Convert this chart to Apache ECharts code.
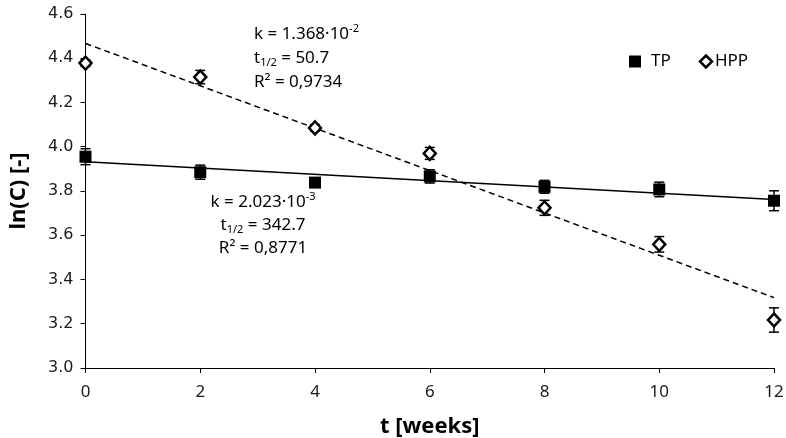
<!DOCTYPE html>
<html><head><meta charset="utf-8">
<script src="https://cdn.jsdelivr.net/npm/echarts@6/dist/echarts.min.js"></script>
<style>html,body{margin:0;padding:0;background:#fff}#c{width:786px;height:438px}</style>
</head><body><div id="c"></div>
<script>
const weeks = [0, 2, 4, 6, 8, 10, 12];
const tpValues = [3.955, 3.885, 3.838, 3.866, 3.819, 3.807, 3.756];
const tpErr = [0.036, 0.032, 0.01, 0.03, 0.029, 0.033, 0.045];
const hppValues = [4.378, 4.315, 4.085, 3.970, 3.724, 3.559, 3.217];
const hppErr = [0.015, 0.03, 0.015, 0.027, 0.034, 0.035, 0.055];
const tpFit = [[0, 3.932], [12, 3.762]];
const hppFit = [[0, 4.467], [12, 3.318]];
const xTicks = [0, 2, 4, 6, 8, 10, 12];
const yTicks = [3.0, 3.2, 3.4, 3.6, 3.8, 4.0, 4.2, 4.4, 4.6];
const hppNote = ['{n|k = 1.368·10}{sup|-2}', '{n|t}{sub|1/2}{n| = 50.7}', '{n|R² = 0,9734}'];
const tpNote = ['{n|k = 2.023·10}{sup|-3}', '{n|t}{sub|1/2}{n| = 342.7}', '{n|R² = 0,8771}'];

const FONT = 'Noto Sans';
const pts = (vals) => weeks.map((w, i) => [w, vals[i]]);
const errData = (vals, errs) => weeks.map((w, i) => [w, vals[i] - errs[i], vals[i] + errs[i]]);

function errRender(params, api) {
  const x = api.value(0);
  const lo = api.coord([x, api.value(1)]);
  const hi = api.coord([x, api.value(2)]);
  const hw = 5;
  const st = {stroke: '#000', lineWidth: 1.5};
  return {type: 'group', children: [
    {type: 'line', shape: {x1: lo[0], y1: lo[1], x2: hi[0], y2: hi[1]}, style: st},
    {type: 'line', shape: {x1: lo[0]-hw, y1: lo[1], x2: lo[0]+hw, y2: lo[1]}, style: st},
    {type: 'line', shape: {x1: hi[0]-hw, y1: hi[1], x2: hi[0]+hw, y2: hi[1]}, style: st}
  ]};
}

const rich = {
  n: {fontFamily: FONT, fontSize: 17, color: '#1a1a1a', lineHeight: 24},
  sup: {fontFamily: FONT, fontSize: 11, color: '#1a1a1a', lineHeight: 24, padding: [0, 0, 10, 0]},
  sub: {fontFamily: FONT, fontSize: 11, color: '#1a1a1a', lineHeight: 24, padding: [9, 0, 0, 0]}
};
const noteEls = [];
const hppY = [34, 58, 82];
hppNote.forEach((t, i) => noteEls.push({type: 'text', x: 254, y: hppY[i], z: 10,
  style: {text: t, rich: rich, align: 'left', verticalAlign: 'middle'}}));
const tpY = [202, 225, 248];
tpNote.forEach((t, i) => noteEls.push({type: 'text', x: 263, y: tpY[i], z: 10,
  style: {text: t, rich: rich, align: 'center', verticalAlign: 'middle'}}));

const chart = echarts.init(document.getElementById('c'), null, {renderer: 'canvas'});
chart.setOption({
  animation: false,
  grid: {left: 85.5, right: 12, top: 14, bottom: 70, containLabel: false, outerBoundsMode: 'none'},
  legend: {
    left: 624, top: 48, itemGap: 28, itemWidth: 12, itemHeight: 12,
    textStyle: {fontFamily: FONT, fontSize: 17, color: '#000'},
    data: [
      {name: 'TP', icon: 'rect', itemStyle: {color: '#000', opacity: 1},
        textStyle: {padding: [0, 0, 0, 5]}},
      {name: 'HPP', icon: 'diamond', itemStyle: {color: '#fff', borderColor: '#000', borderWidth: 2.5, opacity: 1},
        textStyle: {padding: [0, 0, 0, -2]}}
    ]
  },
  xAxis: {
    type: 'value', min: 0, max: 12, interval: 2,
    name: 't [weeks]', nameLocation: 'middle', nameGap: 48,
    nameTextStyle: {fontFamily: FONT, fontSize: 22, fontWeight: 'bold', color: '#000'},
    axisLine: {lineStyle: {color: '#000', width: 1}},
    axisTick: {show: true, length: 5, lineStyle: {color: '#000'}},
    axisLabel: {fontFamily: FONT, fontSize: 17, color: '#1a1a1a', margin: 16,
      formatter: v => xTicks.includes(v) ? String(v) : ''},
    splitLine: {show: false}
  },
  yAxis: {
    type: 'value', min: 3.0, max: 4.6, interval: 0.2,
    name: 'ln(C) [-]', nameLocation: 'middle', nameGap: 56,
    nameTextStyle: {fontFamily: FONT, fontSize: 22, fontWeight: 'bold', color: '#000'},
    axisLine: {show: true, lineStyle: {color: '#000', width: 1}},
    axisTick: {show: true, length: 5, lineStyle: {color: '#000'}},
    axisLabel: {fontFamily: 'DejaVu Sans', fontSize: 16, color: '#1a1a1a', margin: 12,
      formatter: v => { const t = yTicks.find(y => Math.abs(y - v) < 1e-6); return t !== undefined ? t.toFixed(1) : ''; }},
    splitLine: {show: false}
  },
  series: [
    {name: 'TP fit', type: 'line', data: tpFit, symbol: 'none', silent: true,
      lineStyle: {color: '#000', width: 1.5}, z: 1},
    {name: 'HPP fit', type: 'line', data: hppFit, symbol: 'none', silent: true,
      lineStyle: {color: '#000', width: 1.5, type: [6, 4]}, z: 1},
    {name: 'TP err', type: 'custom', renderItem: errRender, data: errData(tpValues, tpErr), z: 2},
    {name: 'HPP err', type: 'custom', renderItem: errRender, data: errData(hppValues, hppErr), z: 2},
    {name: 'TP', type: 'scatter', data: pts(tpValues), symbol: 'rect', symbolSize: 12,
      itemStyle: {color: '#000', opacity: 1}, z: 3},
    {name: 'HPP', type: 'scatter', data: pts(hppValues), symbol: 'diamond', symbolSize: [12, 13],
      itemStyle: {color: '#fff', borderColor: '#000', borderWidth: 2.5, opacity: 1}, z: 3}
  ],
  graphic: noteEls
});
</script></body></html>
